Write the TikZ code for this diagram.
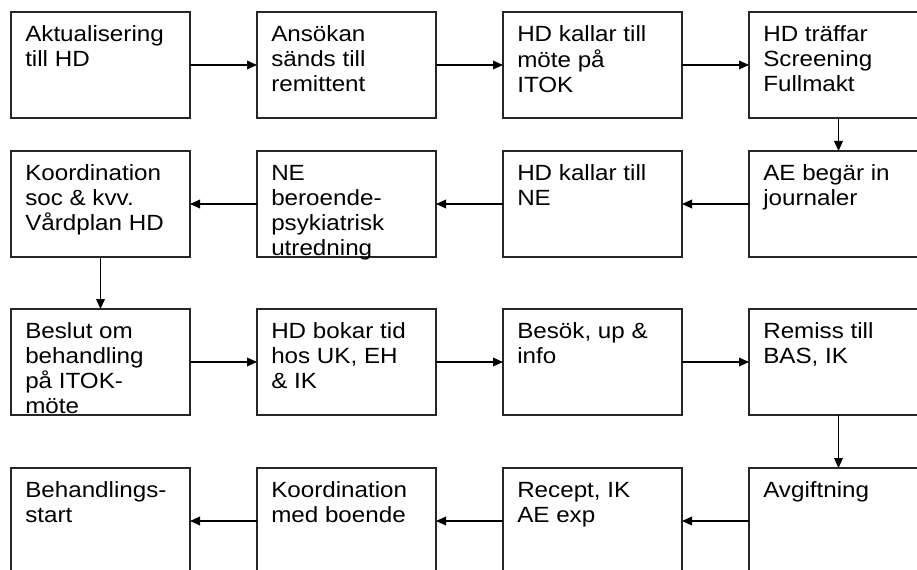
\documentclass[tikz,border=0pt]{standalone}
\usepackage{fontspec}
\setmainfont[FakeStretch=1.1]{Liberation Sans}
\usetikzlibrary{arrows.meta}
\begin{document}
\begin{tikzpicture}[x=0.75pt,y=-0.75pt,
  box/.style={draw=black!85, line width=1pt, inner sep=0pt, outer sep=0pt,
    minimum width=134.25pt, minimum height=79.5pt, anchor=north west},
  txt/.style={inner sep=0pt, anchor=north west, align=left,
    font=\fontsize{16.5pt}{18.75pt}\selectfont},
  arr/.style={draw=black, line width=1pt, -{Triangle[length=7.5pt,width=6.5pt]}}]
\useasboundingbox (0,0) rectangle (917,570);
\clip (0,0) rectangle (917,570);
% row 1
\node[box] (b1) at (11,12) {};
\node[box] (b2) at (257,12) {};
\node[box] (b3) at (503,12) {};
\node[box] (b4) at (749,12) {};
% row 2
\node[box] (b5) at (749,151) {};
\node[box] (b6) at (503,151) {};
\node[box] (b7) at (257,151) {};
\node[box] (b8) at (11,151) {};
% row 3
\node[box] (b9) at (11,309) {};
\node[box] (b10) at (257,309) {};
\node[box] (b11) at (503,309) {};
\node[box] (b12) at (749,309) {};
% row 4
\node[box] (b13) at (749,468) {};
\node[box] (b14) at (503,468) {};
\node[box] (b15) at (257,468) {};
\node[box] (b16) at (11,468) {};
% texts
\node[txt] (t1) at ([shift={(14,11.5)}]b1.north west) {\strut Aktualisering\\till HD};
\node[txt] (t2) at ([shift={(14,11.5)}]b2.north west) {\strut Ansökan\\sänds till\\remittent};
\node[txt] (t3) at ([shift={(14,11.5)}]b3.north west) {\strut HD kallar till\\möte på\\ITOK};
\node[txt] (t4) at ([shift={(14,11.5)}]b4.north west) {\strut HD träffar\\Screening\\Fullmakt};
\node[txt] (t5) at ([shift={(14,11.5)}]b5.north west) {\strut AE begär in\\journaler};
\node[txt] (t6) at ([shift={(14,11.5)}]b6.north west) {\strut HD kallar till\\NE};
\node[txt] (t7) at ([shift={(14,11.5)}]b7.north west) {\strut NE\\beroende-\\psykiatrisk\\utredning};
\node[txt] (t8) at ([shift={(14,11.5)}]b8.north west) {\strut Koordination\\soc \& kvv.\\Vårdplan HD};
\node[txt] (t9) at ([shift={(14,11.5)}]b9.north west) {\strut Beslut om\\behandling\\på ITOK-\\möte};
\node[txt] (t10) at ([shift={(14,11.5)}]b10.north west) {\strut HD bokar tid\\hos UK, EH\\\& IK};
\node[txt] (t11) at ([shift={(14,11.5)}]b11.north west) {\strut Besök, up \&\\info};
\node[txt] (t12) at ([shift={(14,11.5)}]b12.north west) {\strut Remiss till\\BAS, IK};
\node[txt] (t13) at ([shift={(14,11.5)}]b13.north west) {\strut Avgiftning};
\node[txt] (t14) at ([shift={(14,11.5)}]b14.north west) {\strut Recept, IK\\AE exp};
\node[txt] (t15) at ([shift={(14,11.5)}]b15.north west) {\strut Koordination\\med boende};
\node[txt] (t16) at ([shift={(14,11.5)}]b16.north west) {\strut Behandlings-\\start};
% connectors
\draw[arr] (b1.east) -- (b2.west);
\draw[arr] (b2.east) -- (b3.west);
\draw[arr] (b3.east) -- (b4.west);
\draw[arr] (b4.south) -- (b5.north);
\draw[arr] (b5.west) -- (b6.east);
\draw[arr] (b6.west) -- (b7.east);
\draw[arr] (b7.west) -- (b8.east);
\draw[arr] (b8.south) -- (b9.north);
\draw[arr] (b9.east) -- (b10.west);
\draw[arr] (b10.east) -- (b11.west);
\draw[arr] (b11.east) -- (b12.west);
\draw[arr] (b12.south) -- (b13.north);
\draw[arr] (b13.west) -- (b14.east);
\draw[arr] (b14.west) -- (b15.east);
\draw[arr] (b15.west) -- (b16.east);
\end{tikzpicture}
\end{document}
